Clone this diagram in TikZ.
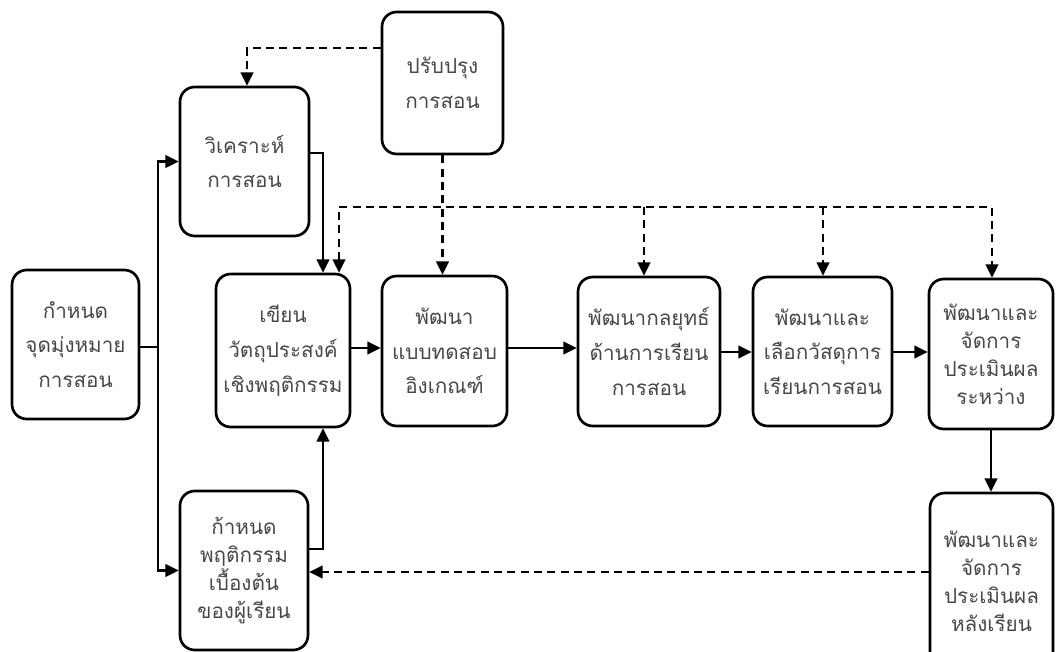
\documentclass[tikz,border=0pt]{standalone}
\usepackage{fontspec}
\newfontfamily\thaifont[Script=Thai]{Loma}
\usetikzlibrary{arrows.meta}
\tikzset{
  box/.style={draw, line width=2pt, rounded corners=11pt, align=center, inner sep=0pt,
    font=\thaifont\fontsize{15.5}{26}\selectfont, text=black!72},
  tight/.style={font=\thaifont\fontsize{15.5}{21}\selectfont},
  tip/.style={-{Triangle[length=10pt,width=9.5pt]}},
  arr/.style={line width=1.8pt, tip},
  plain/.style={line width=1.8pt},
  dsh/.style={line width=1.8pt, dash pattern=on 6pt off 4pt},
}
\begin{document}
\begin{tikzpicture}[x=0.75pt,y=-0.75pt]
\useasboundingbox (0,0) rectangle (1056,652);
% nodes
\node[box, minimum width=95.25pt, minimum height=111.75pt] (A) at (75.5,344.5) {กำหนด\\จุดมุ่งหมาย\\การสอน};
\node[box, minimum width=96.75pt, minimum height=111.75pt] (B) at (244.5,161.5) {วิเคราะห์\\การสอน};
\node[box, minimum width=90.75pt, minimum height=106.5pt] (P) at (442.5,83) {ปรับปรุง\\การสอน};
\node[box, minimum width=100.5pt, minimum height=114.75pt] (C) at (283,350.5) {เขียน\\วัตถุประสงค์\\เชิงพฤติกรรม};
\node[box, minimum width=93.75pt, minimum height=112.5pt] (D) at (444.5,351) {พัฒนา\\แบบทดสอบ\\อิงเกณฑ์};
\node[box, minimum width=106.5pt, minimum height=111.75pt] (E) at (649,351.5) {พัฒนากลยุทธ์\\ด้านการเรียน\\การสอน};
\node[box, minimum width=104.25pt, minimum height=111.75pt] (F) at (822.5,351.5) {พัฒนาและ\\เลือกวัสดุการ\\เรียนการสอน};
\node[box, tight, minimum width=93pt, minimum height=112.5pt] (G) at (991,354) {พัฒนาและ\\จัดการ\\ประเมินผล\\ระหว่าง};
\node[box, tight, minimum width=92.25pt, minimum height=132.75pt] (H) at (991.5,581.5) {พัฒนาและ\\จัดการ\\ประเมินผล\\หลังเรียน};
\node[box, tight, minimum width=96pt, minimum height=119.25pt] (I) at (244,570.5) {ก้าหนด\\พฤติกรรม\\เบื้องต้น\\ของผู้เรียน};
% helper coordinates
\coordinate (j) at (158,347);
\coordinate (bc) at (323,153);
\coordinate (pb) at (247,48);
\coordinate (busL) at (339,207);
\coordinate (busR) at (992,207);
\coordinate (e1) at (644,207);
\coordinate (f1) at (823,207);
\coordinate (ic) at (323,549);
\coordinate (hi) at (620,572);
\coordinate (r1) at (0,348);
\coordinate (r2) at (0,352);
% solid connectors
\draw[plain] (A.east|-j) -- (j);
\draw[arr] (j) |- (B.west);
\draw[arr] (j) |- (I.west);
\draw[arr] (B.east|-bc) -- (bc) -- (bc|-C.north);
\draw[arr] (C.east|-r1) -- (D.west|-r1);
\draw[arr] (D.east|-r1) -- (E.west|-r1);
\draw[arr] (E.east|-r2) -- (F.west|-r2);
\draw[arr] (F.east|-r2) -- (G.west|-r2);
\draw[arr] (G.south) -- (G.south|-H.north);
\draw[arr] (I.east|-ic) -- (ic) -- (ic|-C.south);
% dashed connectors
\draw[dsh, tip] (P.west|-pb) -- (pb) -- (pb|-B.north);
\draw[dsh, tip] (P.south) -- (P.south|-D.north);
\draw[dsh, {Triangle[length=10pt,width=9.5pt]}-{Triangle[length=10pt,width=9.5pt]}] (busL|-C.north) -- (busL) -- (busR) -- (busR|-G.north);
\draw[dsh, tip] (e1) -- (e1|-E.north);
\draw[dsh, tip] (f1) -- (f1|-F.north);
\draw[dsh, tip] (H.west|-hi) -- (I.east|-hi);
\end{tikzpicture}
\end{document}
